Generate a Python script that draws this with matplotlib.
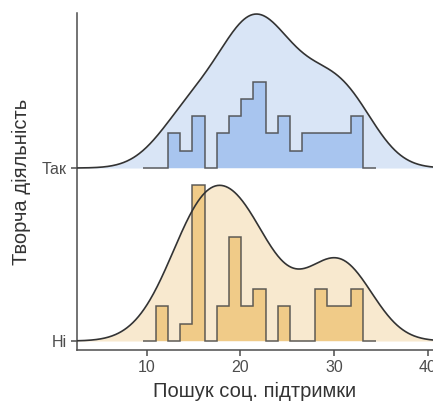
import numpy as np
import matplotlib.pyplot as plt

plt.rcParams['font.family'] = ['Liberation Sans', 'DejaVu Sans']

# групи та підписи
groups = ['Ні', 'Так']
x_label = 'Пошук соц. підтримки'
y_label = 'Творча діяльність'
x_ticks = [10, 20, 30, 40]

# межі бінів (спільні для обох груп)
bin_start = 9.64
bin_width = 1.305
# кількість спостережень у кожному біні (перший і останній - порожні)
counts_ni = [0, 2, 0, 1, 9, 0, 2, 6, 2, 3, 0, 2, 0, 0, 3, 2, 2, 3, 0]
counts_tak = [0, 0, 2, 1, 3, 0, 2, 3, 4, 5, 2, 3, 1, 2, 2, 2, 2, 3, 0]

dens_fill = {'Ні': '#f8e9cf', 'Так': '#d9e5f6'}
hist_fill = {'Ні': '#f0cb88', 'Так': '#a8c5ef'}
line_col = '#333333'


def bw_nrd0(x):
    sd = np.std(x, ddof=1)
    iqr = np.subtract(*np.percentile(x, [75, 25]))
    return 0.9 * min(sd, iqr / 1.34) * len(x) ** -0.2


def kde(x, grid, bw):
    z = (grid[:, None] - x[None, :]) / bw
    return np.exp(-0.5 * z ** 2).sum(axis=1) / (len(x) * bw * np.sqrt(2 * np.pi))


edges = bin_start + bin_width * np.arange(len(counts_ni) + 1)
centers = (edges[:-1] + edges[1:]) / 2
data = {
    'Ні': np.repeat(centers, counts_ni),
    'Так': np.repeat(centers, counts_tak),
}
counts = {'Ні': np.array(counts_ni), 'Так': np.array(counts_tak)}

# спільна ширина вікна, як у ggridges
bw = 1.15 * np.mean([bw_nrd0(data[g]) for g in groups])
lo = min(data[g].min() for g in groups) - 3 * bw
hi = max(data[g].max() for g in groups) + 3 * bw
grid = np.linspace(lo, hi, 512)
dens = {g: kde(data[g], grid, bw) for g in groups}

height = 0.9  # висота найвищого хребта в одиницях осі y
dmax = max(d.max() for d in dens.values())
cmax = max(c.max() for c in counts.values())

fig = plt.figure(figsize=(4.33, 4.07), dpi=100)
ax = fig.add_axes([0.178, 0.14, 0.822, 0.828])

# спочатку верхній хребет, потім нижній
for i, g in reversed(list(enumerate(groups))):
    base = i + 1
    y = base + dens[g] / dmax * height
    ax.fill_between(grid, base, y, color=dens_fill[g], lw=0, zorder=1)
    ax.plot(grid, y, color=line_col, lw=1.2, zorder=4)

for i, g in reversed(list(enumerate(groups))):
    base = i + 1
    vals = base + counts[g] / cmax * height
    ax.stairs(vals, edges, baseline=base, fill=True, color=hist_fill[g],
              lw=0, zorder=2)
    ax.stairs(vals, edges, baseline=base, fill=False, color='#444444',
              lw=1.1, alpha=0.85, zorder=3)

ax.set_xlim(2.56, 40.56)
ax.set_ylim(0.948, 2.896)
ax.set_xticks(x_ticks)
ax.set_yticks([1, 2])
ax.set_yticklabels(groups)

for s in ['top', 'right']:
    ax.spines[s].set_visible(False)
for s in ['left', 'bottom']:
    ax.spines[s].set_color('#4d4d4d')
    ax.spines[s].set_linewidth(1.1)
ax.tick_params(colors='#4d4d4d', labelcolor='#4d4d4d', labelsize=11.5,
               length=4, width=1.1)
ax.set_xlabel(x_label, fontsize=14.5, color='#333333', labelpad=5)
ax.set_ylabel(y_label, fontsize=14.5, color='#333333', labelpad=8)

fig.savefig('out.png', dpi=100)
